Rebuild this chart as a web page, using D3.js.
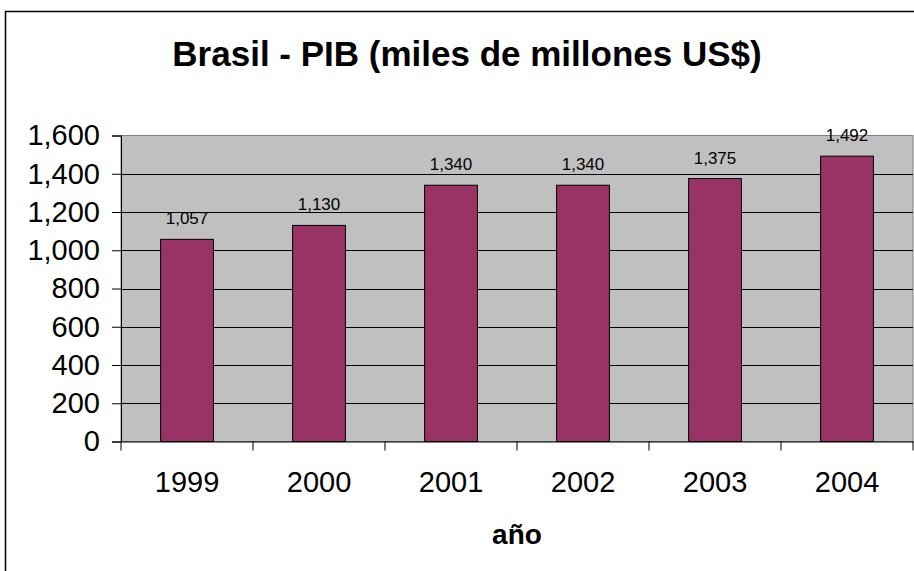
<!DOCTYPE html>
<html>
<head>
<meta charset="utf-8">
<script src="https://cdn.jsdelivr.net/npm/d3@7"></script>
<style>
  body { margin: 0; background: #fff; }
  svg { display: block; font-family: "Liberation Sans", Arial, sans-serif; }
</style>
</head>
<body>
<div id="chart"></div>
<script>
// Data
const years = ["1999", "2000", "2001", "2002", "2003", "2004"];
const gdp = [1057, 1130, 1340, 1340, 1375, 1492];
const yTicks = [0, 200, 400, 600, 800, 1000, 1200, 1400, 1600];

const width = 914,
  height = 571;
const margin = { top: 135.5, right: 1, bottom: 129.5, left: 121 };

const svg = d3
  .select("#chart")
  .append("svg")
  .attr("width", width)
  .attr("height", height);

// outer chart border (runs off the right and bottom edges)
svg
  .append("rect")
  .attr("x", 5.5)
  .attr("y", 11.5)
  .attr("width", 1000)
  .attr("height", 1000)
  .attr("fill", "none")
  .attr("stroke", "#000")
  .attr("stroke-width", 1.5);

const xScale = d3
  .scaleBand()
  .domain(years)
  .range([margin.left, width - margin.right])
  .paddingInner(0.6)
  .paddingOuter(0.3);

const xBand = d3
  .scaleBand()
  .domain(years)
  .range([margin.left, width - margin.right]);

const yScale = d3
  .scaleLinear()
  .domain([0, 1600])
  .range([height - margin.bottom, margin.top]);

// plot area
svg
  .append("rect")
  .attr("x", margin.left)
  .attr("y", margin.top)
  .attr("width", width - margin.right - margin.left)
  .attr("height", height - margin.bottom - margin.top)
  .attr("fill", "#c0c0c0")
  .attr("stroke", "#808080")
  .attr("stroke-width", 1);

// gridlines
svg
  .selectAll(".grid")
  .data(yTicks.slice(1, -1))
  .enter()
  .append("line")
  .attr("x1", margin.left)
  .attr("x2", width - margin.right)
  .attr("y1", (d) => Math.round(yScale(d)) + 0.5)
  .attr("y2", (d) => Math.round(yScale(d)) + 0.5)
  .attr("stroke", "#000")
  .attr("stroke-width", 1);

// bars
svg
  .selectAll(".bar")
  .data(gdp)
  .enter()
  .append("rect")
  .attr("class", "bar")
  .attr("x", (d, i) => xScale(years[i]))
  .attr("y", (d) => yScale(d))
  .attr("width", xScale.bandwidth())
  .attr("height", (d) => yScale(0) - yScale(d))
  .attr("fill", "#993366")
  .attr("stroke", "#000")
  .attr("stroke-width", 1);

// value labels
svg
  .selectAll(".val")
  .data(gdp)
  .enter()
  .append("text")
  .attr("x", (d, i) => xScale(years[i]) + xScale.bandwidth() / 2)
  .attr("y", (d) => yScale(d) - 15)
  .attr("text-anchor", "middle")
  .attr("font-size", 17)
  .attr("fill", "#000")
  .text((d) => d3.format(",")(d));

// Y axis
const yAxis = svg
  .append("g")
  .attr("transform", `translate(${margin.left},0)`)
  .call(
    d3
      .axisLeft(yScale)
      .tickValues(yTicks)
      .tickSize(9)
      .tickPadding(12)
      .tickFormat(d3.format(","))
  );
yAxis.select(".domain").attr("stroke", "#000");
yAxis.selectAll("text").attr("font-size", 29).attr("font-family", "Liberation Sans, Arial, sans-serif").attr("fill", "#000");

// X axis
const xAxis = svg
  .append("g")
  .attr("transform", `translate(0,${height - margin.bottom})`)
  .call(d3.axisBottom(xBand).tickSize(0).tickPadding(30));
xAxis.select(".domain").attr("stroke", "#000");
xAxis.selectAll("text").attr("font-size", 29).attr("font-family", "Liberation Sans, Arial, sans-serif").attr("fill", "#000");

// category boundary ticks
svg
  .selectAll(".xtick")
  .data(years.concat(["end"]))
  .enter()
  .append("line")
  .attr("x1", (d, i) => (i < years.length ? xBand(d) : width - margin.right))
  .attr("x2", (d, i) => (i < years.length ? xBand(d) : width - margin.right))
  .attr("y1", yScale(0))
  .attr("y2", yScale(0) + 9)
  .attr("stroke", "#000");

// title
svg
  .append("text")
  .attr("x", 467)
  .attr("y", 66)
  .attr("text-anchor", "middle")
  .attr("font-size", 35)
  .attr("font-weight", "bold")
  .text("Brasil - PIB (miles de millones US$)");

// x axis title
svg
  .append("text")
  .attr("x", 517)
  .attr("y", 544)
  .attr("text-anchor", "middle")
  .attr("font-size", 28)
  .attr("font-weight", "bold")
  .text("año");
</script>
</body>
</html>
